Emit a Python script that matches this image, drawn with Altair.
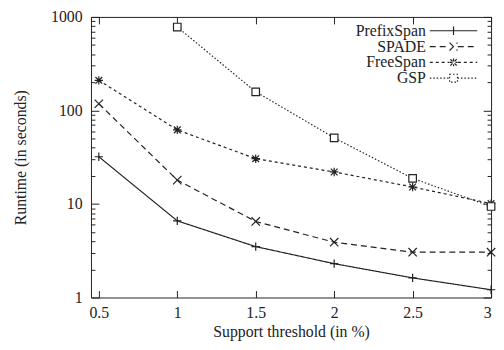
import altair as alt
import pandas as pd

support = [0.5, 1, 1.5, 2, 2.5, 3]
prefixspan = [32, 6.6, 3.5, 2.3, 1.62, 1.21]
spade = [118, 18, 6.5, 3.9, 3.05, 3.05]
freespan = [210, 62, 30.5, 22, 15.2, 10.1]
gsp = [None, 780, 158, 51, 18.8, 9.4]

series = ["PrefixSpan", "SPADE", "FreeSpan", "GSP"]
x_ticks = [0.5, 1, 1.5, 2, 2.5, 3]
y_major = [1, 10, 100, 1000]
y_minor = [m * d for d in (1, 10, 100) for m in range(2, 10)]

rows = []
for name, vals in zip(series, [prefixspan, spade, freespan, gsp]):
    for xv, yv in zip(support, vals):
        if yv is not None:
            rows.append({"support": xv, "runtime": yv, "algo": name})
df = pd.DataFrame(rows)

W, H = 405, 284
FONT = "Liberation Serif"
INK = "#222222"
FS = 16

dashes = [[1, 0], [6, 4], [3, 3], [1.5, 2]]
markers = [
    "M-1,0L1,0M0,-1L0,1",
    "M-1,-1L1,1M-1,1L1,-1",
    "M-1,0L1,0M0,-1L0,1M-0.8,-0.8L0.8,0.8M-0.8,0.8L0.8,-0.8",
    "M-0.9,-0.9L0.9,-0.9L0.9,0.9L-0.9,0.9Z",
]
leg_shapes = [
    "M-6,0L6,0M0,-1.1L0,1.1",
    "M-6,0L-1.1,0M1.1,0L6,0M-1,-1L1,1M-1,1L1,-1",
    "M-6,0L-1.1,0M1.1,0L6,0M-1,0L1,0M0,-1L0,1M-0.8,-0.8L0.8,0.8M-0.8,0.8L0.8,-0.8",
    "M-6,0L-1,0M1,0L6,0M-1,-1L1,-1L1,1L-1,1Z",
]

xscale = alt.Scale(domain=[0.45, 3], nice=False, zero=False)
yscale = alt.Scale(type="log", domain=[1, 1000], nice=False)


def neg(v):
    return alt.ExprRef(expr=str(v))


def x_enc(axis):
    return alt.X("support:Q", scale=xscale, axis=axis)


def y_enc(axis):
    return alt.Y("runtime:Q", scale=yscale, axis=axis)


label_x_axis = alt.Axis(
    orient="bottom", values=x_ticks, labelExpr="datum.value + ''", ticks=False,
    domain=False, grid=False, labelPadding=7, labelFont=FONT, labelFontSize=FS,
    labelColor=INK, title="Support threshold (in %)", titleFont=FONT,
    titleFontSize=FS, titleFontWeight="normal", titleColor=INK, titlePadding=3,
)
label_y_axis = alt.Axis(
    orient="left", values=y_major, labelExpr="datum.value + ''", ticks=False,
    domain=False, grid=False, labelPadding=9, labelFont=FONT, labelFontSize=FS,
    labelColor=INK, title="Runtime (in seconds)", titleFont=FONT,
    titleFontSize=FS, titleFontWeight="normal", titleColor=INK, titleX=-63,
    titleY=H / 2,
)


def tick_axis(orient, offset, values, size):
    return alt.Axis(
        orient=orient, offset=neg(offset), values=values, labels=False, domain=False,
        grid=False, ticks=True, tickSize=size, tickColor=INK, tickWidth=1,
        title=None,
    )


dash_scale = alt.Scale(domain=series, range=dashes)

lines = alt.Chart(df).mark_line(color=INK, strokeWidth=1.2).encode(
    x=x_enc(label_x_axis),
    y=y_enc(label_y_axis),
    strokeDash=alt.StrokeDash("algo:N", scale=dash_scale, legend=None),
    detail="algo:N",
)

points = alt.Chart(df).mark_point(
    filled=False, fill="white", stroke=INK, strokeWidth=1.2, size=72, opacity=1
).encode(
    x=x_enc(tick_axis("top", -H, x_ticks, 7)),
    y=y_enc(tick_axis("right", -W, y_major, 8)),
    shape=alt.Shape("algo:N", scale=alt.Scale(domain=series, range=markers), legend=None),
)

legend_layer = alt.Chart(df).mark_point(filled=False, stroke=INK, opacity=0, size=64).encode(
    x=x_enc(tick_axis("bottom", -H, x_ticks, 7)),
    y=y_enc(tick_axis("left", -W, y_major, 8)),
    shape=alt.Shape(
        "algo:N",
        scale=alt.Scale(domain=series, range=leg_shapes),
        legend=alt.Legend(
            title=None, orient="none", legendX=359, legendY=6, padding=0,
            symbolSize=64, symbolStrokeWidth=1.2, symbolStrokeColor=INK,
            symbolOpacity=1, symbolFillColor="transparent", labelAlign="right",
            labelOffset=neg(-36), labelFont=FONT, labelFontSize=FS, labelColor=INK,
            rowPadding=0,
        ),
    ),
    strokeDash=alt.StrokeDash(
        "algo:N", scale=alt.Scale(domain=series, range=dashes),
        legend=alt.Legend(title=None, orient="none", legendX=359, legendY=6),
    ),
)

minor_r = alt.Chart(df).mark_point(opacity=0).encode(
    x=alt.X("support:Q", scale=xscale, axis=None),
    y=y_enc(tick_axis("right", -W, y_minor, 4)),
)
minor_l = alt.Chart(df).mark_point(opacity=0).encode(
    x=alt.X("support:Q", scale=xscale, axis=None),
    y=y_enc(tick_axis("left", -W, y_minor, 4)),
)

chart = (
    alt.layer(lines, points, legend_layer, minor_r, minor_l)
    .resolve_axis(x="independent", y="independent")
    .resolve_scale(shape="independent", strokeDash="independent")
    .properties(
        width=W, height=H,
        autosize=alt.AutoSizeParams(type="none"),
        padding={"left": 84, "top": 7, "right": 5, "bottom": 43},
        background="white",
    )
    .configure_view(stroke=INK, strokeWidth=1)
)

chart.save("out.html", embed_options={"renderer": "svg", "actions": False})
